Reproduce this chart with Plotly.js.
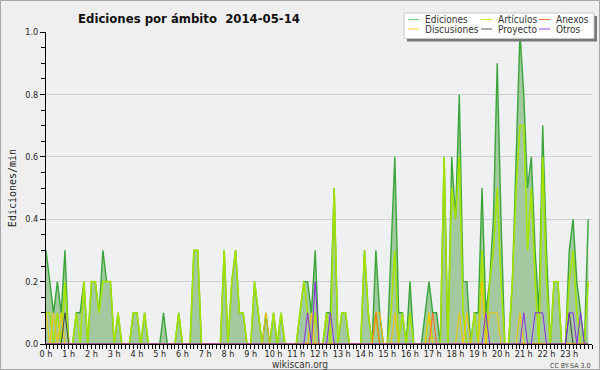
<!DOCTYPE html>
<html><head><meta charset="utf-8">
<script src="https://cdn.plot.ly/plotly-3.0.1.min.js"></script>
<style>html,body{margin:0;padding:0;background:#efefef}</style>
</head><body><div id="chart" style="width:600px;height:370px"></div>
<script>
// 10-minute bins over the day (144 bins), x in hours
const binCount = 144;
const hoursX = Array.from({length: binCount}, (_, i) => i / 6);

const hourTicks = [0,1,2,3,4,5,6,7,8,9,10,11,12,13,14,15,16,17,18,19,20,21,22,23];
const hourTickText = hourTicks.map(h => h + ' h');

const ediciones = [
0.3,0.2,0.1,0.2,0.1,0.3, 0,0,0.1,0.1,0.2,0, 0.2,0.2,0.1,0.3,0.2,0.2, 0,0.1,0,0,0,0.1,
0.1,0,0.1,0,0,0, 0,0.1,0,0,0,0.1, 0,0,0,0.3,0.3,0, 0,0,0,0,0,0.3,
0,0.2,0.3,0.1,0.1,0, 0,0.2,0.1,0,0.1,0, 0.1,0,0.1,0,0,0, 0,0.1,0.2,0.2,0.1,0.3,
0,0,0.1,0.1,0.5,0, 0.1,0.1,0,0,0,0, 0.3,0.1,0,0.3,0.1,0, 0,0.3,0.6,0.1,0.1,0,
0.2,0,0,0,0.1,0.2, 0.1,0.1,0,0.6,0,0.6, 0.4,0.8,0.2,0.2,0,0.1, 0.1,0.5,0.1,0.2,0.4,0.9,
0.4,0,0,0.2,0.6,1.0, 0.8,0.5,0.6,0.3,0.1,0.7, 0.3,0,0.2,0.2,0,0, 0.3,0.4,0.2,0.1,0,0.4
];
const articulos = [
0.1,0.1,0,0.1,0,0.2, 0,0,0.1,0,0.2,0, 0.2,0.2,0.1,0.2,0.2,0.2, 0,0.1,0,0,0,0.1,
0.1,0,0.1,0,0,0, 0,0,0,0,0,0.1, 0,0,0,0.3,0.3,0, 0,0,0,0,0,0.3,
0,0.2,0.3,0.1,0.1,0, 0,0.2,0.1,0,0,0, 0.1,0,0.1,0,0,0, 0,0.1,0.2,0.1,0,0.1,
0,0,0.1,0,0.5,0, 0.1,0.1,0,0,0,0, 0.3,0.1,0,0.1,0,0, 0,0.1,0.3,0,0.1,0,
0.1,0,0,0,0,0.1, 0,0,0,0.6,0,0.5, 0.4,0.6,0.1,0,0,0.1, 0,0.3,0,0.2,0.3,0.5,
0.2,0,0,0.2,0.5,0.7, 0.7,0.3,0.5,0.2,0,0.6, 0.2,0,0.2,0.2,0,0, 0.2,0.3,0.1,0,0,0.2
];
const discusiones = [
0.1,0,0.1,0,0.1,0, 0,0,0,0,0,0, 0,0,0,0,0,0, 0,0,0,0,0,0,
0,0,0,0,0,0, 0,0,0,0,0,0, 0,0,0,0,0,0, 0,0,0,0,0,0,
0,0,0,0,0,0, 0,0,0,0,0.1,0, 0,0,0,0,0,0, 0,0,0,0,0.1,0,
0,0,0,0,0,0, 0,0,0,0,0,0, 0,0,0,0.1,0.1,0, 0,0,0.1,0,0,0,
0,0,0,0,0,0.1, 0,0,0,0,0,0, 0,0.1,0,0.1,0,0, 0,0.2,0,0.1,0.1,0.1,
0,0,0,0,0,0.1, 0,0,0,0,0,0, 0,0,0,0,0,0, 0,0,0,0,0,0
];
const proyecto = [
0,0,0,0,0,0.1, 0,0,0,0,0,0, 0,0,0,0,0,0, 0,0,0,0,0,0,
0,0,0,0,0,0, 0,0,0,0,0,0, 0,0,0,0,0,0, 0,0,0,0,0,0,
0,0,0,0,0,0, 0,0,0,0,0,0, 0,0,0,0,0,0, 0,0,0,0,0,0,
0,0,0,0,0,0, 0,0,0,0,0,0, 0,0,0,0,0,0, 0,0,0,0,0,0,
0,0,0,0,0,0, 0,0,0,0,0,0, 0,0,0,0,0,0, 0,0,0,0,0,0,
0,0,0,0,0,0, 0,0,0,0,0,0, 0,0,0,0,0,0, 0.1,0,0,0,0,0
];
const anexos = [
0,0,0,0,0,0, 0,0,0,0,0,0, 0,0,0,0,0,0, 0,0,0,0,0,0,
0,0,0,0,0,0, 0,0,0,0,0,0, 0,0,0,0,0,0, 0,0,0,0,0,0,
0,0,0,0,0,0, 0,0,0,0,0,0, 0,0,0,0,0,0, 0,0,0,0,0,0,
0,0,0,0,0,0, 0,0,0,0,0,0, 0,0,0,0.1,0,0, 0,0,0,0,0,0,
0,0,0,0,0,0, 0.1,0,0,0,0,0, 0,0,0,0,0,0, 0,0,0,0,0,0,
0,0,0,0,0,0, 0,0,0,0,0,0, 0,0,0,0,0,0, 0,0,0,0,0,0
];
const otros = [
0,0,0,0,0,0, 0,0,0,0,0,0, 0,0,0,0,0,0, 0,0,0,0,0,0,
0,0,0,0,0,0, 0,0,0,0,0,0, 0,0,0,0,0,0, 0,0,0,0,0,0,
0,0,0,0,0,0, 0,0,0,0,0,0, 0,0,0,0,0,0, 0,0,0,0.1,0,0.2,
0,0,0,0.1,0,0, 0,0,0,0,0,0, 0,0,0,0,0,0, 0,0,0,0,0,0,
0,0,0,0,0,0, 0,0,0,0,0,0, 0,0,0,0,0,0, 0,0,0.1,0,0,0,
0,0,0,0,0,0, 0.1,0,0,0.1,0.1,0.1, 0,0,0,0,0,0, 0.1,0.1,0,0.1,0,0
];

const seriesColors = {
  'Ediciones': '#3aa63a', 'Artículos': '#a6e400', 'Anexos': '#ff6a1f',
  'Discusiones': '#f7c600', 'Proyecto': '#444444', 'Otros': '#8b2be8'
};
const legendSwatch = {
  'Ediciones': '#6fc96f', 'Artículos': '#c8ec30', 'Anexos': '#ff7a40',
  'Discusiones': '#ffcc30', 'Proyecto': '#555555', 'Otros': '#9a44ff'
};

const line = (name, y, w) => ({
  type: 'scatter', mode: 'lines', name: name, x: hoursX, y: y,
  line: {color: seriesColors[name], width: w}, showlegend: false, hoverinfo: 'skip'
});

const traces = [
  Object.assign(line('Ediciones', ediciones, 1.4), {fill: 'tozeroy', fillcolor: '#a2c9a0'}),
  line('Artículos', articulos, 1.6),
  line('Discusiones', discusiones, 1),
  line('Proyecto', proyecto, 1),
  line('Anexos', anexos, 1),
  line('Otros', otros, 1)
];

// pixel helpers for decorations (plot area: x 46..592, y 32..344)
const L = 46, R = 8, T = 32, B = 26, W = 600 - L - R, H = 370 - T - B;
const px = x => (x - L) / W;
const py = y => (370 - B - y) / H;
const condensed = 'DejaVu Sans Condensed, DejaVu Sans';

const shapes = [
  // outer frame
  {type:'rect', xref:'paper', yref:'paper', x0:px(0.5), x1:px(599.5), y0:py(369.5), y1:py(0.5),
   line:{color:'#a8a8a8', width:1}, layer:'below'},
  // legend shadow + box
  {type:'rect', xref:'paper', yref:'paper', x0:px(407), x1:px(597), y0:py(41.5), y1:py(16),
   fillcolor:'#777777', line:{width:0}, layer:'above'},
  {type:'rect', xref:'paper', yref:'paper', x0:px(404), x1:px(594), y0:py(38.5), y1:py(13),
   fillcolor:'#ffffff', line:{color:'#c8c8c8', width:1}, layer:'above'}
];
const annotations = [];
const colX = [408, 481, 539];
const rowY = [19.5, 29];
const legendOrder = [['Ediciones','Artículos','Anexos'],['Discusiones','Proyecto','Otros']];
legendOrder.forEach((row, r) => row.forEach((name, c) => {
  shapes.push({type:'line', xref:'paper', yref:'paper', x0:px(colX[c]), x1:px(colX[c]+11),
    y0:py(rowY[r]), y1:py(rowY[r]), line:{color:legendSwatch[name], width:1}, layer:'above'});
  annotations.push({xref:'paper', yref:'paper', x:px(colX[c]+15), y:py(rowY[r]), text:name,
    showarrow:false, xanchor:'left', yanchor:'middle',
    font:{family:condensed, size:10, color:'#333333'}});
}));
annotations.push({xref:'paper', yref:'paper', x:px(300), y:py(364.5), text:'wikiscan.org', showarrow:false,
  xanchor:'center', yanchor:'middle', font:{family:condensed, size:10, color:'#333333'}});
annotations.push({xref:'paper', yref:'paper', x:px(592), y:py(365.5), text:'CC BY-SA 3.0', showarrow:false,
  xanchor:'right', yanchor:'middle', font:{family:condensed, size:7, color:'#444444'}});

const layout = {
  width: 600, height: 370,
  margin: {l: L, r: R, t: T, b: B, pad: 0},
  paper_bgcolor: '#efefef', plot_bgcolor: '#eef0f2',
  font: {family: condensed, size: 9, color: '#222222'},
  title: {text: '<b>Ediciones por ámbito  2014-05-14</b>', x: 0.315, xanchor: 'center', y: 1 - 18/370, yanchor: 'middle',
          font: {family: condensed, size: 13, color: '#111111'}},
  showlegend: false,
  xaxis: {
    range: [0, 24], tickmode: 'array', tickvals: hourTicks, ticktext: hourTickText,
    showgrid: false, zeroline: false, showline: true, linecolor: '#000000', linewidth: 1,
    ticks: 'outside', ticklen: 4, tickcolor: '#000000', tickfont: {size: 9},
    ticklabelstandoff: -3,
    minor: {dtick: 1/6, tick0: 0, ticks: 'outside', ticklen: 4, tickcolor: '#000000', showgrid: false},
    fixedrange: true
  },
  yaxis: {
    range: [0, 1.0], dtick: 0.2, tickformat: '.1f',
    showgrid: true, gridcolor: '#cfcfcf', gridwidth: 1, zeroline: false,
    showline: true, linecolor: '#000000', linewidth: 1,
    ticks: 'outside', ticklen: 5, tickcolor: '#000000', tickfont: {size: 9},
    minor: {dtick: 0.05, ticks: 'outside', ticklen: 4, tickcolor: '#000000', showgrid: false},
    title: {text: 'Ediciones/min', standoff: 6, font: {family: 'DejaVu Sans Mono', size: 10, color: '#222222'}},
    fixedrange: true
  },
  shapes: shapes,
  annotations: annotations
};

Plotly.newPlot('chart', traces, layout, {displayModeBar: false, staticPlot: true});
</script></body></html>
